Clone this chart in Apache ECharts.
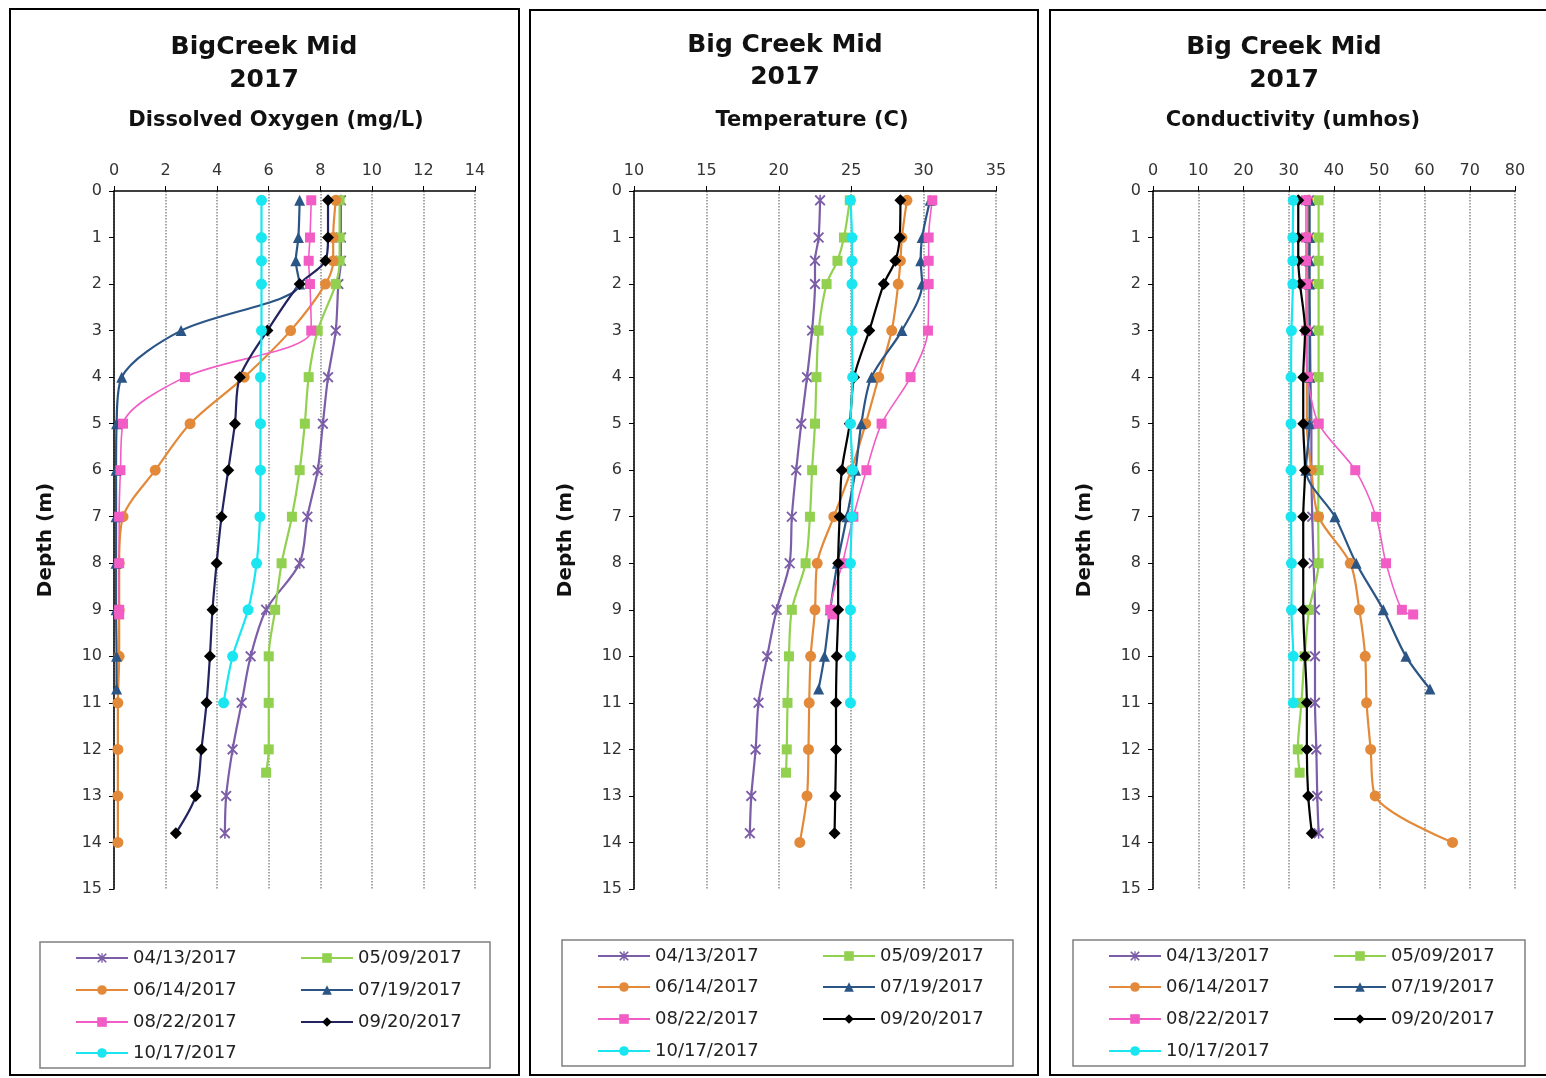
<!DOCTYPE html>
<html><head><meta charset="utf-8">
<script src="https://cdn.jsdelivr.net/npm/echarts@6/dist/echarts.min.js"></script>
<style>html,body{margin:0;padding:0;background:#fff}#c{width:1546px;height:1078px}</style>
</head><body><div id="c"></div>
<script>
// ---- categories / depths ----
const dates = ['04/13/2017','05/09/2017','06/14/2017','07/19/2017','08/22/2017','09/20/2017','10/17/2017'];
const depth0413 = [0.2,1,1.5,2,3,4,5,6,7,8,9,10,11,12,13,13.8];
const depth0509 = [0.2,1,1.5,2,3,4,5,6,7,8,9,10,11,12,12.5];
const depth0614 = [0.2,1,1.5,2,3,4,5,6,7,8,9,10,11,12,13,14];
const depth0719 = [0.2,1,1.5,2,3,4,5,6,7,8,9,10,10.7];
const depth0822 = [0.2,1,1.5,2,3,4,5,6,7,8,9,9.1];
const depth0920 = [0.2,1,1.5,2,3,4,5,6,7,8,9,10,11,12,13,13.8];
const depth1017 = [0.2,1,1.5,2,3,4,5,6,7,8,9,10,11];

// ---- Dissolved oxygen (mg/L) ----
const do0413 = [8.8,8.8,8.8,8.7,8.6,8.3,8.1,7.9,7.5,7.2,5.9,5.3,4.95,4.6,4.35,4.3];
const do0509 = [8.75,8.75,8.75,8.6,7.9,7.55,7.4,7.2,6.9,6.5,6.25,6.0,6.0,6.0,5.9];
const do0614 = [8.6,8.5,8.5,8.2,6.85,5.05,2.95,1.6,0.35,0.2,0.2,0.2,0.15,0.15,0.15,0.15];
const do0719 = [7.2,7.15,7.05,7.2,2.6,0.3,0.1,0.08,0.08,0.08,0.08,0.1,0.1];
const do0822 = [7.65,7.6,7.55,7.6,7.65,2.75,0.35,0.25,0.2,0.2,0.2,0.2];
const do0920 = [8.3,8.3,8.2,7.2,5.95,4.88,4.69,4.43,4.17,3.98,3.82,3.72,3.59,3.39,3.17,2.4];
const do1017 = [5.72,5.72,5.72,5.72,5.72,5.68,5.68,5.68,5.66,5.53,5.2,4.6,4.25];

// ---- Temperature (C) ----
const t0413 = [22.85,22.75,22.5,22.5,22.3,21.95,21.55,21.2,20.9,20.75,19.85,19.2,18.6,18.4,18.1,18.0];
const t0509 = [24.9,24.5,24.05,23.3,22.75,22.6,22.5,22.3,22.15,21.85,20.9,20.7,20.6,20.55,20.5];
const t0614 = [28.85,28.5,28.4,28.25,27.8,26.9,26.0,25.0,23.8,22.65,22.5,22.2,22.1,22.05,21.95,21.45];
const t0719 = [30.45,29.9,29.8,29.9,28.5,26.4,25.7,25.3,24.7,24.05,23.55,23.15,22.75];
const t0822 = [30.6,30.35,30.35,30.35,30.3,29.1,27.1,26.05,25.15,24.4,23.55,23.7];
const t0920 = [28.4,28.35,28.05,27.25,26.25,25.2,24.9,24.35,24.2,24.1,24.1,24.0,23.95,23.95,23.9,23.85];
const t1017 = [24.95,25.05,25.05,25.05,25.05,25.1,24.95,25.1,25.05,24.95,24.95,24.95,24.95];

// ---- Conductivity (umhos) ----
const c0413 = [34.5,34.5,34.5,34.5,34.7,34.8,35.0,35.0,35.2,35.5,35.8,35.8,35.8,36.1,36.3,36.6];
const c0509 = [36.6,36.6,36.6,36.6,36.6,36.6,36.6,36.6,36.5,36.6,34.5,33.5,32.8,32.0,32.4];
const c0614 = [34.2,34.2,34.0,34.2,34.0,34.0,34.0,35.0,36.6,43.6,45.6,46.9,47.2,48.1,49.1,66.2];
const c0719 = [34.6,34.6,34.6,34.6,34.6,34.6,34.6,33.8,40.2,44.9,50.9,55.9,61.2];
const c0822 = [33.8,33.8,33.8,33.8,33.8,34.2,36.6,44.7,49.3,51.5,55.0,57.5];
const c0920 = [32.1,32.1,32.1,32.5,33.6,33.2,33.2,33.6,33.2,33.2,33.2,33.6,34.0,34.0,34.3,35.1];
const c1017 = [31.0,30.9,30.9,30.9,30.6,30.5,30.5,30.5,30.5,30.6,30.6,31.0,31.0];

// ---- axis ticks ----
const doTicks = {min:0, max:14, interval:2};
const tTicks = {min:10, max:35, interval:5};
const cTicks = {min:0, max:80, interval:10};
const depthTicks = {min:0, max:15, interval:1};

const depths = [depth0413,depth0509,depth0614,depth0719,depth0822,depth0920,depth1017];
const panels = [
  {vals:[do0413,do0509,do0614,do0719,do0822,do0920,do1017], ticks:doTicks},
  {vals:[t0413,t0509,t0614,t0719,t0822,t0920,t1017], ticks:tTicks},
  {vals:[c0413,c0509,c0614,c0719,c0822,c0920,c1017], ticks:cTicks}
];

const FONT = '"DejaVu Sans", "Liberation Sans", Arial, sans-serif';
const xMark = 'path://M0,1.2L1.2,0L5,3.8L8.8,0L10,1.2L6.2,5L10,8.8L8.8,10L5,6.2L1.2,10L0,8.8L3.8,5Z M4.3,0H5.7V10H4.3Z';
const styles = [
  {color:'#7B5EA7', line:'#7B5EA7', symbol:xMark, size:11, w:2.2},
  {color:'#92D050', line:'#92D050', symbol:'rect', size:10, w:2.2},
  {color:'#E38A3A', line:'#E38A3A', symbol:'circle', size:11, w:2.2},
  {color:'#2A5585', line:'#2A5585', symbol:'triangle', size:11, w:2.2},
  {color:'#F25CC5', line:'#F25CC5', symbol:'rect', size:10, w:1.6},
  {color:'#000000', line:'#000000', symbol:'diamond', size:12, w:2.2},
  {color:'#19E6F0', line:'#19E6F0', symbol:'circle', size:11, w:2.2}
];
const line0920 = ['#23235f','#000000','#000000'];

const grids = [
  {left:114, top:191, width:361, height:698},
  {left:634, top:191, width:362, height:698},
  {left:1153, top:191, width:362, height:698}
];

const xAxes = [], yAxes = [], series = [], legends = [];
panels.forEach((p, pi) => {
  xAxes.push({
    type:'value', gridIndex:pi, position:'top', min:p.ticks.min, max:p.ticks.max, interval:p.ticks.interval,
    axisLine:{show:true, onZero:false, lineStyle:{color:'#000', width:1.5}},
    axisTick:{show:true, inside:false, length:5, lineStyle:{color:'#000'}},
    axisLabel:{fontSize:16, fontFamily:FONT, color:'#333', margin:12},
    splitLine:{show:true, lineStyle:{color:'#8a8a8a', type:'dotted', width:1.5}}
  });
  yAxes.push({
    type:'value', gridIndex:pi, inverse:true, min:depthTicks.min, max:depthTicks.max, interval:depthTicks.interval,
    name:'Depth (m)', nameLocation:'middle', nameRotate:90, nameGap:58,
    nameTextStyle:{fontSize:20, fontWeight:'bold', fontFamily:FONT, color:'#111'},
    axisLine:{show:true, onZero:false, lineStyle:{color:'#000', width:1.5}},
    axisTick:{show:true, inside:false, length:5, lineStyle:{color:'#000'}},
    axisLabel:{fontSize:16, fontFamily:FONT, color:'#333', margin:12},
    splitLine:{show:false}
  });
  p.vals.forEach((vals, si) => {
    const st = styles[si];
    series.push({
      type:'line', name:dates[si], xAxisIndex:pi, yAxisIndex:pi,
      data: vals.map((v, k) => [v, depths[si][k]]),
      smooth:0.3, symbol:st.symbol, symbolSize:st.size, showAllSymbol:true,
      lineStyle:{color: si===5 ? line0920[pi] : st.line, width:st.w},
      itemStyle:{color:st.color},
      emphasis:{disabled:true}
    });
  });
});

// legends: one per item, laid out as two columns inside each box
const legendBoxes = [
  {x:40, y:942, w:450, h:126, rows:[957,989,1021,1052]},
  {x:562, y:940, w:451, h:126, rows:[955,986,1018,1050]},
  {x:1073, y:940, w:452, h:126, rows:[955,986,1018,1050]}
];
legendBoxes.forEach((b, bi) => {
  dates.forEach((d, i) => {
    const col = i % 2, row = Math.floor(i / 2);
    const item = (i === 5) ? {name:d, lineStyle:{color:line0920[bi]}} : {name:d};
    legends.push({
      data:[item], left: b.x + 35 + col * 225, top: b.rows[row] - 8,
      itemWidth:52, itemHeight:12, padding:0, selectedMode:false,
      textStyle:{fontSize:18, fontFamily:FONT, color:'#222', padding:[0,0,0,0]}
    });
  });
});

const titleTexts = [
  {t:'BigCreek Mid', x:264, y:47, sub:'Dissolved Oxygen (mg/L)', sx:276, yr:80},
  {t:'Big Creek Mid', x:785, y:45, sub:'Temperature (C)', sx:812, yr:77},
  {t:'Big Creek Mid', x:1284, y:47, sub:'Conductivity (umhos)', sx:1293, yr:80}
];
const graphics = [];
[{x:10,y:9,w:509,h:1066},{x:530,y:10,w:508,h:1065},{x:1050,y:10,w:500,h:1065}].forEach(r => {
  graphics.push({type:'rect', shape:{x:r.x, y:r.y, width:r.w, height:r.h}, style:{fill:'none', stroke:'#000', lineWidth:2}, silent:true});
});
legendBoxes.forEach(b => {
  graphics.push({type:'rect', shape:{x:b.x, y:b.y, width:b.w, height:b.h}, style:{fill:'none', stroke:'#808080', lineWidth:1.5}, silent:true});
});
titleTexts.forEach(t => {
  graphics.push({type:'text', style:{text:t.t, x:t.x, y:t.y, textAlign:'center', textVerticalAlign:'middle', font:'bold 25px ' + FONT, fill:'#111'}, silent:true});
  graphics.push({type:'text', style:{text:'2017', x:t.x, y:t.yr, textAlign:'center', textVerticalAlign:'middle', font:'bold 25px ' + FONT, fill:'#111'}, silent:true});
  graphics.push({type:'text', style:{text:t.sub, x:t.sx, y:121, textAlign:'center', textVerticalAlign:'middle', font:'bold 21px ' + FONT, fill:'#111'}, silent:true});
});

const chart = echarts.init(document.getElementById('c'), null, {renderer:'canvas'});
chart.setOption({
  animation:false,
  backgroundColor:'#fff',
  grid:grids, xAxis:xAxes, yAxis:yAxes, series:series, legend:legends, graphic:graphics
});
</script></body></html>
